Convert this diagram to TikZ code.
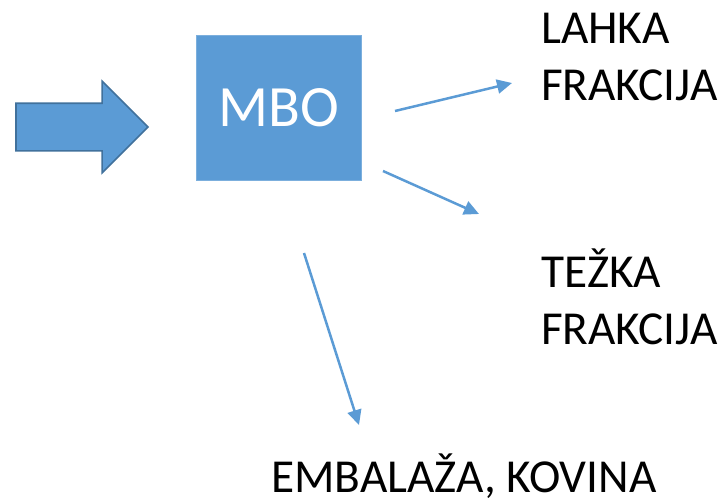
\documentclass[tikz,border=0pt]{standalone}
\usepackage{fontspec}
\setmainfont{Carlito}
\usetikzlibrary{arrows.meta,shapes.arrows,positioning}
\definecolor{mboblue}{HTML}{5B9BD5}
\definecolor{mboedge}{HTML}{41719C}

\begin{document}
\begin{tikzpicture}[
        x=1pt, y=-1pt,
        box/.style={
            rectangle,
            minimum width=165pt,
            minimum height=145pt,
            fill=mboblue, draw=mboblue!80!white, line width=0.8pt,
            text=white, inner sep=0pt,
            font=\fontsize{58.5}{70}\selectfont
        },
        inarrow/.style={
            single arrow, single arrow head extend=22pt,
            minimum height=132pt, inner sep=23pt, outer sep=0pt,
            fill=mboblue, draw=mboedge, line width=1.6pt
        },
        label/.style={
            align=left, inner sep=0pt, anchor=base west,
            font=\fontsize{47.3}{57}\selectfont
        },
        arrow/.style={-{Triangle[length=15pt,width=14pt]}, draw=mboblue, line width=2.5pt}
    ]

    \useasboundingbox (0,0) rectangle (723,498);

    \node[inarrow, anchor=tail] (input) at (16,127) {};

    \node[box] (mbo) at (278.5,107.5) {MBO};

    \node[label] (lahka) at (541,100) {LAHKA\\FRAKCIJA};
    \node[label] (tezka) at (541,344) {TEŽKA\\FRAKCIJA};
    \node[label] (embalaza) at (271,492) {EMBALAŽA, KOVINA};

    \coordinate (lahkaout) at (395,111);
    \coordinate (lahkain) at (512,83);
    \coordinate (tezkaout) at (383,171);
    \coordinate (tezkain) at (479,214);
    \coordinate (embout) at (304,253);
    \coordinate (embin) at (359,425);

    \draw[arrow] (lahkaout) -- (lahkain);
    \draw[arrow] (tezkaout) -- (tezkain);
    \draw[arrow] (embout) -- (embin);

\end{tikzpicture}
\end{document}
